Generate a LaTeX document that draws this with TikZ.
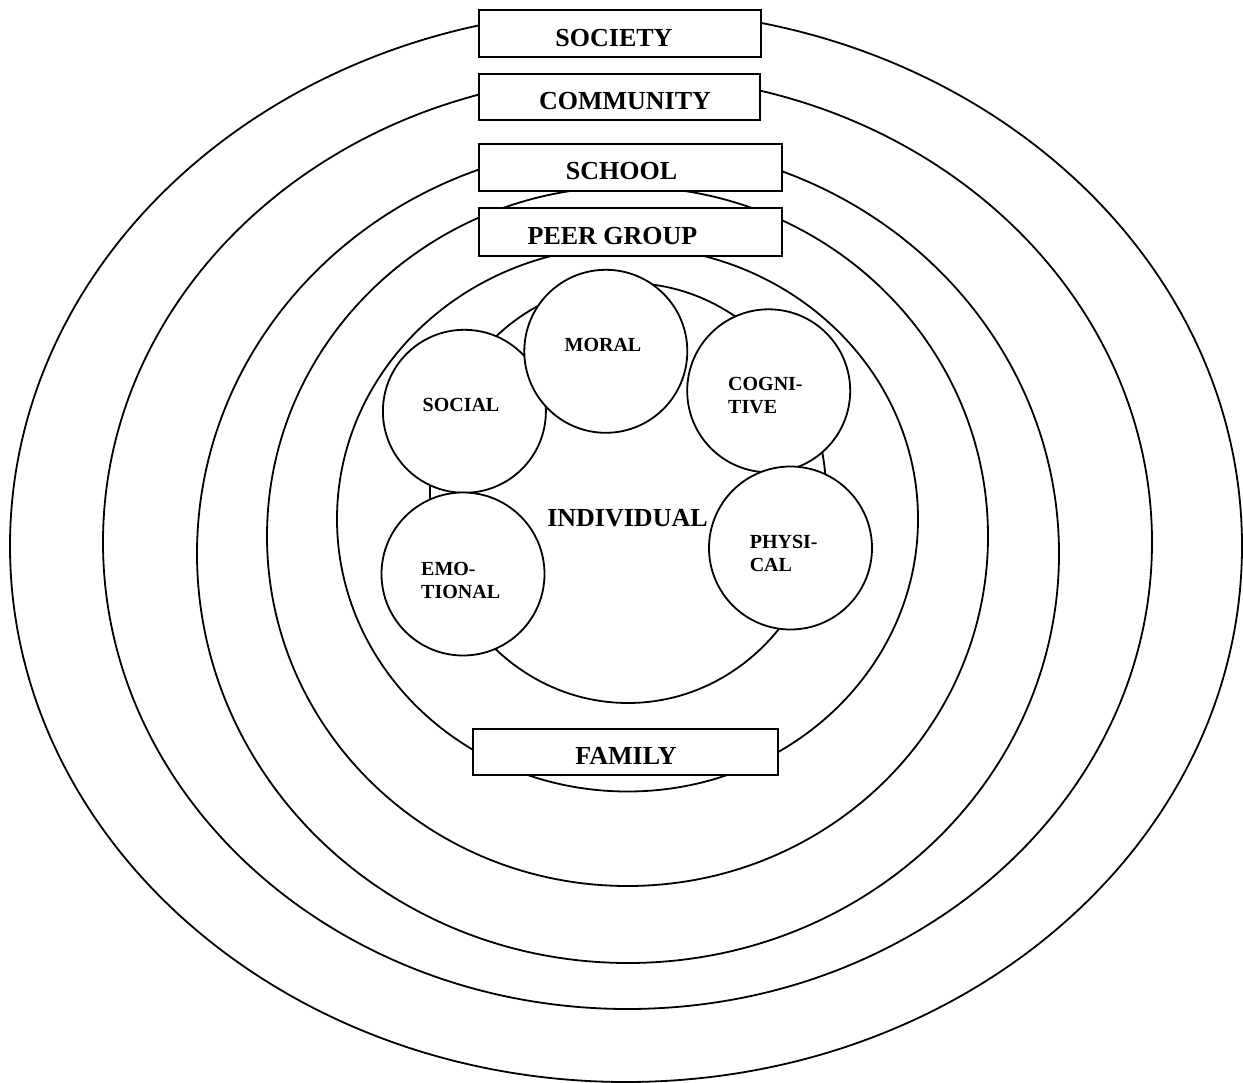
\documentclass[tikz,border=0pt]{standalone}
\usepackage{fontspec}
\setmainfont{Liberation Serif}
\usetikzlibrary{positioning}

\begin{document}
\begin{tikzpicture}[x=1pt, y=-1pt,
  ring/.style={line width=1.8pt},
  layer/.style={draw, fill=white, line width=2.2pt, inner sep=0pt},
  facet/.style={circle, draw, fill=white, line width=1.8pt,
                minimum size=163pt, inner sep=0pt},
  lbl/.style={font=\bfseries\fontsize{26}{30}\selectfont, inner sep=0pt},
  sub/.style={font=\bfseries\fontsize{20}{23}\selectfont, inner sep=0pt, align=left}
]
\useasboundingbox (0,0) rectangle (1243,1083);

% the nested settings, outside in
\draw[ring] (626,546)     ellipse [x radius=616pt,   y radius=536pt];
\draw[ring] (627.5,542.3) ellipse [x radius=524.5pt, y radius=466.7pt];
\draw[ring] (628,553.7)   ellipse [x radius=431pt,   y radius=409.3pt];
\draw[ring] (627.5,536.3) ellipse [x radius=360.5pt, y radius=349.7pt];
\draw[ring] (627.5,519)   ellipse [x radius=290.5pt, y radius=272.5pt];
\draw[ring] (628,493)     ellipse [x radius=198pt,   y radius=210pt];

% aspects of the individual
\node[facet] (social)    at (464.4,411.3) {};
\node[facet] (emotional) at (463,574) {};
\node[facet] (moral)     at (605.8,351.3) {};
\node[facet] (cognitive) at (768.7,390.8) {};
\node[facet] (physical)  at (790.5,548) {};

\node[sub] (social-t)    at (461,405) {SOCIAL};
\node[sub] (moral-t)     at (603,345) {MORAL};
\node[sub, anchor=west] (cognitive-t) at (728,396) {COGNI-\\TIVE};
\node[sub, anchor=west] (physical-t)  at (749.6,553.5) {PHYSI-\\CAL};
\node[sub, anchor=west] (emotional-t) at (421,580) {EMO-\\TIONAL};
\node[lbl] (individual) at (627.5,518.5) {INDIVIDUAL};

% labels of the settings
\node[layer, minimum width=282pt, minimum height=47pt] (society)   at (620,33.5) {};
\node[layer, minimum width=281pt, minimum height=46pt] (community) at (619.5,97) {};
\node[layer, minimum width=303pt, minimum height=47pt] (school)    at (630.5,167.5) {};
\node[layer, minimum width=303pt, minimum height=48pt] (peer)      at (630.5,232) {};
\node[layer, minimum width=305pt, minimum height=46pt] (family)    at (625.8,752) {};

\node[lbl] (society-t)   at (614,38)    {SOCIETY};
\node[lbl] (community-t) at (625,101)   {COMMUNITY};
\node[lbl] (school-t)    at (621.5,171) {SCHOOL};
\node[lbl] (peer-t)      at (612.5,236) {PEER GROUP};
\node[lbl] (family-t)    at (626,756)   {FAMILY};
\end{tikzpicture}
\end{document}
